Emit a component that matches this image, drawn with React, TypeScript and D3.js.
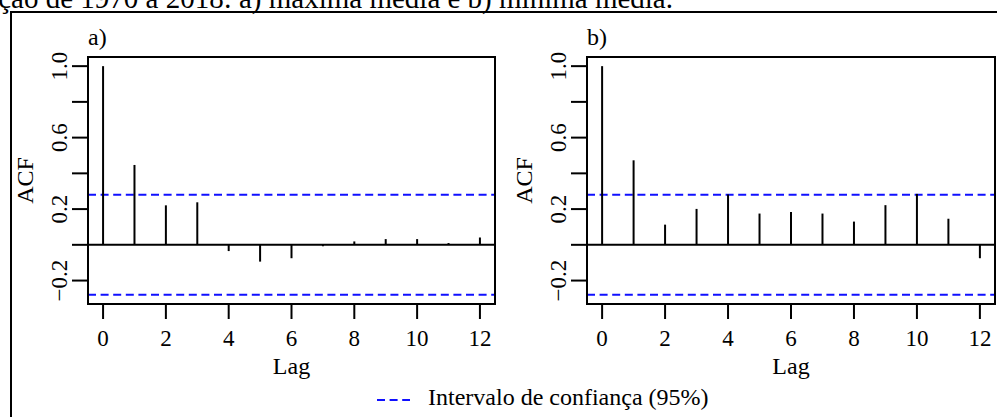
import React from "react";
import * as d3 from "d3";

const lags = [0, 1, 2, 3, 4, 5, 6, 7, 8, 9, 10, 11, 12];
const acfMaxima = [1.0, 0.447, 0.221, 0.238, -0.035, -0.094, -0.075, -0.008, 0.019, 0.032, 0.032, 0.01, 0.041];
const acfMinima = [1.0, 0.473, 0.113, 0.201, 0.282, 0.175, 0.184, 0.175, 0.13, 0.222, 0.285, 0.146, -0.075];
const confLimit = 0.28;
const xTicks = [0, 2, 4, 6, 8, 10, 12];
const yTicks = [-0.2, 0, 0.2, 0.4, 0.6, 0.8, 1.0];
const yTickLabels = [-0.2, 0.2, 0.6, 1.0];
const panelLabels = ["a)", "b)"];
const captionTail = "ção de 1970 a 2018: a) máxima média e b) mínima média.";
const legendLabel = "Intervalo de confiança (95%)";

const W = 997;
const H = 417;
const FONT = "Liberation Serif, DejaVu Serif, serif";
const BLUE = "#1010ff";
const DASH = "8,4.6";

type PanelProps = { values: number[]; label: string; left: number; right: number };

function Panel({ values, label, left, right }: PanelProps) {
  const top = 57;
  const bottom = 304;
  const xDom: [number, number] = [-0.48, 12.48];
  const yMin = -confLimit;
  const yMax = 1.0;
  const pad = (yMax - yMin) * 0.04;
  const x = d3.scaleLinear().domain(xDom).range([left, right]);
  const y = d3.scaleLinear().domain([yMin - pad, yMax + pad]).range([bottom, top]);
  const fmt = d3.format(".1f");
  const cx = (left + right) / 2;
  const cy = (top + bottom) / 2;
  return (
    <g>
      <text x={left} y={45} fontSize={24} style={{ fontFamily: FONT }} fill="#000">
        {label}
      </text>
      {[confLimit, -confLimit].map((c, i) => (
        <line key={"c" + i} x1={left} x2={right} y1={y(c)} y2={y(c)} stroke={BLUE} strokeWidth={2} strokeDasharray={DASH} />
      ))}
      <line x1={left} x2={right} y1={y(0)} y2={y(0)} stroke="#000" strokeWidth={2} />
      {lags.map((l, i) => (
        <line key={"s" + i} x1={x(l)} x2={x(l)} y1={y(0)} y2={y(values[i])} stroke="#000" strokeWidth={2} />
      ))}
      <rect x={left} y={top} width={right - left} height={bottom - top} fill="none" stroke="#000" strokeWidth={2} />
      {yTicks.map((t, i) => (
        <line key={"yt" + i} x1={left - 16} x2={left} y1={y(t)} y2={y(t)} stroke="#000" strokeWidth={2} />
      ))}
      {yTickLabels.map((t, i) => (
        <text
          key={"yl" + i}
          transform={`translate(${left - 21},${y(t)}) rotate(-90)`}
          textAnchor="middle"
          fontSize={23}
          style={{ fontFamily: FONT }}
          fill="#000"
        >
          {fmt(t)}
        </text>
      ))}
      <text transform={`translate(${left - 55},${cy}) rotate(-90)`} textAnchor="middle" fontSize={24} style={{ fontFamily: FONT }} fill="#000">
        ACF
      </text>
      {xTicks.map((t, i) => (
        <line key={"xt" + i} x1={x(t)} x2={x(t)} y1={bottom} y2={bottom + 15} stroke="#000" strokeWidth={2} />
      ))}
      {xTicks.map((t, i) => (
        <text key={"xl" + i} x={x(t)} y={346} textAnchor="middle" fontSize={23} style={{ fontFamily: FONT }} fill="#000">
          {t}
        </text>
      ))}
      <text x={cx} y={374} textAnchor="middle" fontSize={24} style={{ fontFamily: FONT }} fill="#000">
        Lag
      </text>
    </g>
  );
}

export default function App() {
  return (
    <svg
      width={W}
      height={H}
      viewBox={`0 0 ${W} ${H}`}
      style={{ position: "absolute", left: 0, top: 0, background: "#fff", fontFamily: FONT }}
    >
      <rect x={0} y={0} width={W} height={H} fill="#fff" />
      <text x={673} y={8} textAnchor="end" fontSize={29} style={{ fontFamily: FONT }} fill="#000">
        {captionTail}
      </text>
      <path d={`M11,${H} L11,12 L${W},12`} fill="none" stroke="#000" strokeWidth={2} />
      <Panel values={acfMaxima} label={panelLabels[0]} left={88} right={495} />
      <Panel values={acfMinima} label={panelLabels[1]} left={587} right={995} />
      <line x1={377} x2={410} y1={400} y2={400} stroke={BLUE} strokeWidth={2} strokeDasharray={DASH} />
      <text x={428} y={405} fontSize={24} style={{ fontFamily: FONT }} fill="#000">
        {legendLabel}
      </text>
    </svg>
  );
}
